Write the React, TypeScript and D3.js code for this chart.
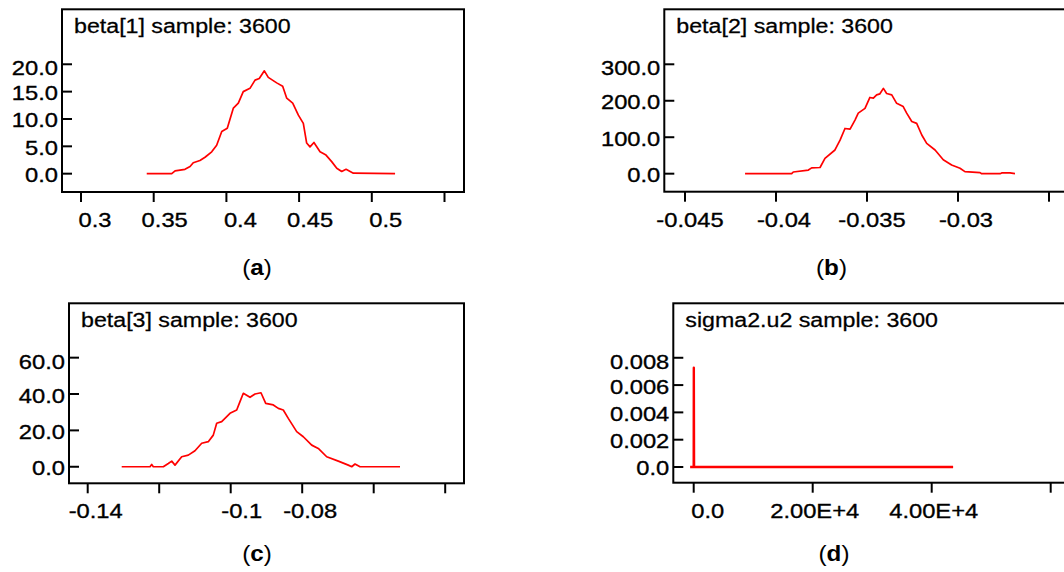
import React from "react";
import * as d3 from "d3";

// ---------- data ----------
const BETA1_X = [0.3452, 0.3624, 0.3647, 0.3715, 0.375, 0.3772, 0.3818, 0.3853, 0.3899, 0.3933, 0.3968, 0.4006, 0.4048, 0.4082, 0.4116, 0.4162, 0.4197, 0.4226, 0.4261, 0.4288, 0.4346, 0.4387, 0.4415, 0.4456, 0.4495, 0.4529, 0.4552, 0.4575, 0.4602, 0.4644, 0.4685, 0.4724, 0.4759, 0.4793, 0.4823, 0.4873, 0.516];
const BETA1_Y = [0, 0, 0.5, 0.8, 1.3, 2.0, 2.4, 3.0, 4.0, 5.2, 7.7, 8.3, 12.0, 12.9, 15.0, 15.6, 17.1, 17.4, 18.8, 17.6, 16.6, 16.0, 13.8, 12.9, 10.7, 9.2, 5.6, 4.9, 5.7, 4.0, 3.4, 2.2, 1.0, 0.4, 0.8, 0.1, 0];

const BETA2_X = [-0.0417, -0.03914, -0.03905, -0.03822, -0.03804, -0.03758, -0.03731, -0.03676, -0.03648, -0.03621, -0.03593, -0.03566, -0.03548, -0.03511, -0.03484, -0.03465, -0.03447, -0.03429, -0.0341, -0.03392, -0.03364, -0.03337, -0.03301, -0.03282, -0.03254, -0.03227, -0.03199, -0.03172, -0.03126, -0.03081, -0.03035, -0.02989, -0.02962, -0.02879, -0.0287, -0.02769, -0.0276, -0.02714, -0.02687];
const BETA2_Y = [0, 0, 4.7, 10, 16, 17, 42, 65, 92, 124, 122, 147, 166, 179, 209, 207, 216, 219, 234, 220, 216, 193, 184, 166, 143, 138, 106, 83, 65, 38, 24, 15, 5.5, 3, 0, 0, 2, 2, 0];

const BETA3_X = [-0.13049, -0.12257, -0.1221, -0.12165, -0.11885, -0.11745, -0.1165, -0.11558, -0.11371, -0.11186, -0.10999, -0.10811, -0.10627, -0.10487, -0.10392, -0.10252, -0.1002, -0.09832, -0.0974, -0.09647, -0.0946, -0.0932, -0.09153, -0.09021, -0.08808, -0.08668, -0.08529, -0.08389, -0.08154, -0.07969, -0.07734, -0.0755, -0.07315, -0.0699, -0.0671, -0.06615, -0.06523, -0.06383, -0.05264];
const BETA3_Y = [0, 0, 1.3, 0, 0, 1.8, 3.1, 0.9, 5.5, 6.4, 8.8, 12.9, 13.8, 17.4, 23.9, 24.8, 29.4, 31.2, 35.8, 40.4, 38.2, 40.0, 40.7, 34.9, 34.0, 32.1, 31.2, 26.6, 19.3, 16.5, 11.9, 10.1, 5.5, 3.1, 0.9, 0, 1.5, 0, 0];

const SIGMA_X = [-600, 0, 20, 60, 43600];
const SIGMA_Y = [0, 0, 0.00727, 0, 0];

const A_XTICKS = [0.3, 0.35, 0.4, 0.45, 0.5, 0.55];
const A_XLABELS = ["0.3", "0.35", "0.4", "0.45", "0.5", ""];
const A_YTICKS = [0, 5, 10, 15, 20];
const A_YLABELS = ["0.0", "5.0", "10.0", "15.0", "20.0"];

const B_XTICKS = [-0.045, -0.04, -0.035, -0.03, -0.025];
const B_XLABELS = ["-0.045", "-0.04", "-0.035", "-0.03", ""];
const B_YTICKS = [0, 100, 200, 300];
const B_YLABELS = ["0.0", "100.0", "200.0", "300.0"];

const C_XTICKS = [-0.14, -0.12, -0.1, -0.08, -0.06, -0.04];
const C_XLABELS = ["-0.14", "", "-0.1", "-0.08", "", ""];
const C_YTICKS = [0, 20, 40, 60];
const C_YLABELS = ["0.0", "20.0", "40.0", "60.0"];

const D_XTICKS = [0, 20000, 40000, 60000];
const D_XLABELS = ["0.0", "2.00E+4", "4.00E+4", ""];
const D_YTICKS = [0, 0.002, 0.004, 0.006, 0.008];
const D_YLABELS = ["0.0", "0.002", "0.004", "0.006", "0.008"];

const TITLES = ["beta[1] sample: 3600", "beta[2] sample: 3600", "beta[3] sample: 3600", "sigma2.u2 sample: 3600"];
const CAPTIONS = ["a", "b", "c", "d"];

// ---------- layout ----------
type Panel = {
  left: number; top: number; right: number; bottom: number;
  xDomain: [number, number]; yDomain: [number, number];
  xs: number[]; ys: number[];
  xTicks: number[]; xLabels: string[];
  yTicks: number[]; yLabels: string[];
  title: string; caption: string; capX: number; capY: number;
  lw: number;
};

const PANELS: Panel[] = [
  { left: 62, top: 9.3, right: 464, bottom: 192, xDomain: [0.28693, 0.56341], yDomain: [-3.35, 30.05],
    xs: BETA1_X, ys: BETA1_Y, xTicks: A_XTICKS, xLabels: A_XLABELS, yTicks: A_YTICKS, yLabels: A_YLABELS,
    title: TITLES[0], caption: CAPTIONS[0], capX: 257, capY: 275, lw: 1.7 },
  { left: 664.3, top: 9.3, right: 1066, bottom: 191.7, xDomain: [-0.046137, -0.024066], yDomain: [-49.4, 450.8],
    xs: BETA2_X, ys: BETA2_Y, xTicks: B_XTICKS, xLabels: B_XLABELS, yTicks: B_YTICKS, yLabels: B_YLABELS,
    title: TITLES[1], caption: CAPTIONS[1], capX: 831.5, capY: 275, lw: 1.7 },
  { left: 69, top: 303.3, right: 464, bottom: 483.3, xDomain: [-0.145231, -0.034741], yDomain: [-9.1, 89.9],
    xs: BETA3_X, ys: BETA3_Y, xTicks: C_XTICKS, xLabels: C_XLABELS, yTicks: C_YTICKS, yLabels: C_YLABELS,
    title: TITLES[2], caption: CAPTIONS[2], capX: 257, capY: 561, lw: 1.7 },
  { left: 673.3, top: 303.3, right: 1068, bottom: 482.7, xDomain: [-3429, 62908], yDomain: [-0.00115, 0.01199],
    xs: SIGMA_X, ys: SIGMA_Y, xTicks: D_XTICKS, xLabels: D_XLABELS, yTicks: D_YTICKS, yLabels: D_YLABELS,
    title: TITLES[3], caption: CAPTIONS[3], capX: 834, capY: 561, lw: 2.4 },
];

const FONT = "'Liberation Sans', Arial, sans-serif";
const SX = 1.13;
const TS = 0.35; // slight text stroke to match the heavier rendering

function PanelView({ p }: { p: Panel }) {
  const x = d3.scaleLinear().domain(p.xDomain).range([p.left, p.right]);
  const y = d3.scaleLinear().domain(p.yDomain).range([p.bottom, p.top]);
  const pts = p.xs.map((v, i) => [v, p.ys[i]] as [number, number]);
  const line = d3.line<[number, number]>().x((d) => x(d[0])).y((d) => y(d[1]));
  const topIdx = p.yTicks.length - 1;
  return (
    <g>
      <rect x={p.left} y={p.top} width={p.right - p.left} height={p.bottom - p.top}
        fill="none" stroke="#000" strokeWidth={2} />
      <path d={line(pts) || ""} fill="none" stroke="#ff0000" strokeWidth={p.lw} strokeLinejoin="round" />
      {p.yTicks.map((t, i) => (
        <g key={"y" + i}>
          <line x1={p.left} x2={p.left + 10} y1={y(t)} y2={y(t)} stroke="#000" strokeWidth={2} />
          <text transform={`translate(${p.left - 4},${y(t) + (i === topIdx ? 11 : 8.5)}) scale(${SX},1)`}
            textAnchor="end" fontSize={21} fontFamily={FONT} fill="#000" stroke="#000" strokeWidth={TS}>{p.yLabels[i]}</text>
        </g>
      ))}
      {p.xTicks.map((t, i) => {
        const lab = p.xLabels[i];
        const dx = 14 - 3 * (lab.length - 3);
        return (
          <g key={"x" + i}>
            <line x1={x(t)} x2={x(t)} y1={p.bottom} y2={p.bottom + 10} stroke="#000" strokeWidth={2} />
            {lab && (
              <text transform={`translate(${x(t) + dx},${p.bottom + 35}) scale(${SX},1)`}
                textAnchor="middle" fontSize={21} fontFamily={FONT} fill="#000" stroke="#000" strokeWidth={TS}>{lab}</text>
            )}
          </g>
        );
      })}
      <text transform={`translate(${p.left + 12},${p.top + 24}) scale(1.19,1)`}
        fontSize={19.5} fontFamily={FONT} fill="#000" stroke="#000" strokeWidth={0.25}>{p.title}</text>
      <text transform={`translate(${p.capX},${p.capY}) scale(1.1,1)`} textAnchor="middle"
        fontSize={22} fontFamily={FONT} fill="#000">
        (<tspan fontWeight="bold">{p.caption}</tspan>)
      </text>
    </g>
  );
}

export default function App() {
  return (
    <svg width={1064} height={572} style={{ position: "absolute", left: 0, top: 0, background: "#fff" }}>
      <rect width={1064} height={572} fill="#fff" />
      {PANELS.map((p, i) => <PanelView key={i} p={p} />)}
    </svg>
  );
}
